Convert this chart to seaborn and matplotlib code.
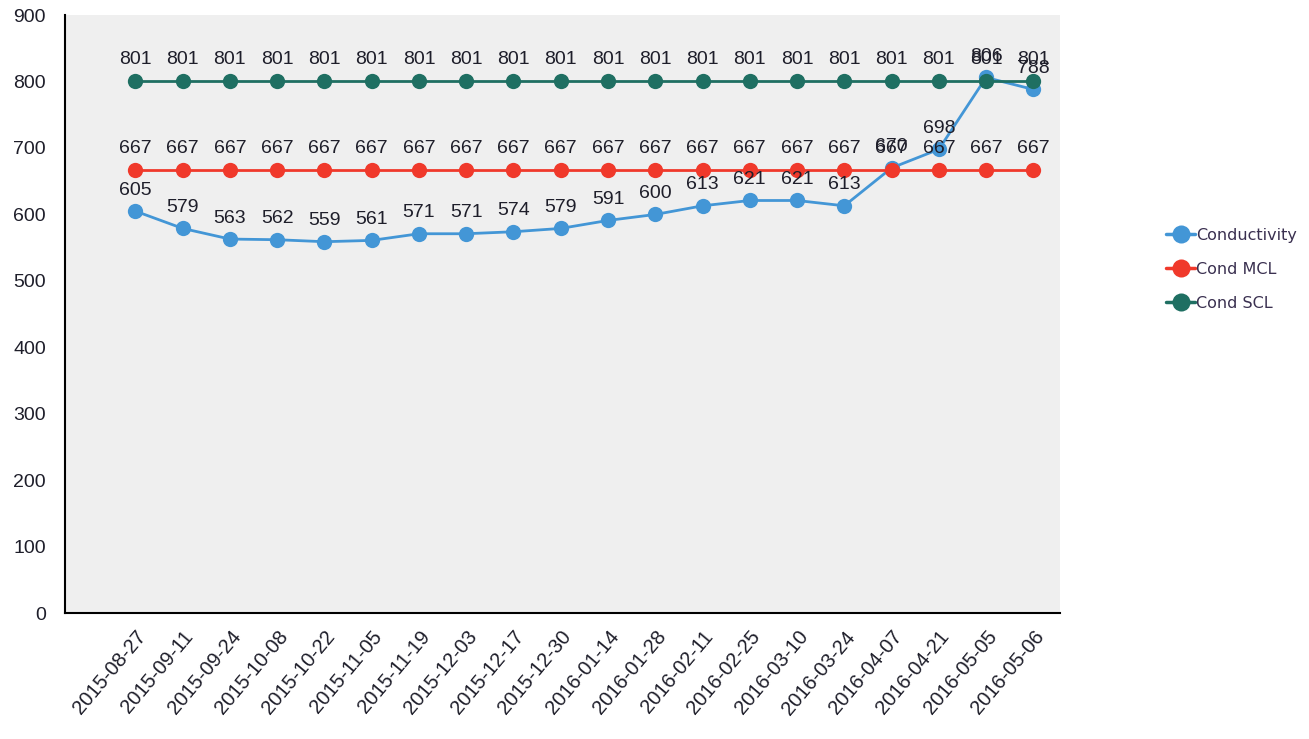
import numpy as np
import pandas as pd
import matplotlib
matplotlib.use("Agg")
import matplotlib.pyplot as plt
import seaborn as sns

# Werte
dates = ["2015-08-27", "2015-09-11", "2015-09-24", "2015-10-08", "2015-10-22",
         "2015-11-05", "2015-11-19", "2015-12-03", "2015-12-17", "2015-12-30",
         "2016-01-14", "2016-01-28", "2016-02-11", "2016-02-25", "2016-03-10",
         "2016-03-24", "2016-04-07", "2016-04-21", "2016-05-05", "2016-05-06"]
conductivity = [605, 579, 563, 562, 559, 561, 571, 571, 574, 579,
                591, 600, 613, 621, 621, 613, 670, 698, 806, 788]
cond_mcl = [667] * 20
cond_scl = [801] * 20

series_names = ["Conductivity", "Cond MCL", "Cond SCL"]
colors = ["#4396d6", "#f0392b", "#1f6f62"]

df = pd.DataFrame({
    "date": dates * 3,
    "x": list(range(len(dates))) * 3,
    "value": conductivity + cond_mcl + cond_scl,
    "series": [series_names[0]] * 20 + [series_names[1]] * 20 + [series_names[2]] * 20,
})

sns.set_style("white")
plt.rcParams['font.family'] = ['Liberation Sans', 'DejaVu Sans']

fig = plt.figure(figsize=(13.09, 7.39), dpi=100)
ax = fig.add_axes([0.05, 0.17, 0.76, 0.8097])
ax.set_facecolor("#efefef")

sns.lineplot(data=df, x="x", y="value", hue="series", palette=colors,
             marker="o", markersize=11, markeredgewidth=0, linewidth=2,
             ax=ax, legend=True)

# Datenbeschriftungen
for name, vals in zip(series_names, [conductivity, cond_mcl, cond_scl]):
    for i, v in enumerate(vals):
        ax.annotate(str(v), (i, v), xytext=(0, 9), textcoords="offset points",
                    ha="center", va="bottom", fontsize=14, color="#1e1e2a")

ax.set_xlim(-1.48, 19.57)
ax.set_ylim(0, 900)
ax.set_yticks(range(0, 901, 100))
ax.set_xticks(range(len(dates)))
ax.set_xticklabels(dates, rotation=50, ha="right", rotation_mode="anchor",
                   fontsize=14.5, color="#1e1e2a")
ax.tick_params(axis="y", labelsize=14, length=0, pad=14, labelcolor="#1e1e2a")
ax.tick_params(axis="x", length=0, pad=10)
ax.set_xlabel("")
ax.set_ylabel("")

for s in ["top", "right"]:
    ax.spines[s].set_visible(False)
for s in ["left", "bottom"]:
    ax.spines[s].set_color("black")
    ax.spines[s].set_linewidth(1.5)

leg = ax.legend(loc="center left", bbox_to_anchor=(1.092, 0.575), frameon=False,
                prop={"family": "DejaVu Sans", "size": 11.5},
                handlelength=1.8, handletextpad=0.05, labelspacing=1.2)
for line in leg.get_lines():
    line.set_linewidth(2.5)
    line.set_markersize(13)
for t in leg.get_texts():
    t.set_color("#3a3050")

fig.savefig("out.png", dpi=100)
